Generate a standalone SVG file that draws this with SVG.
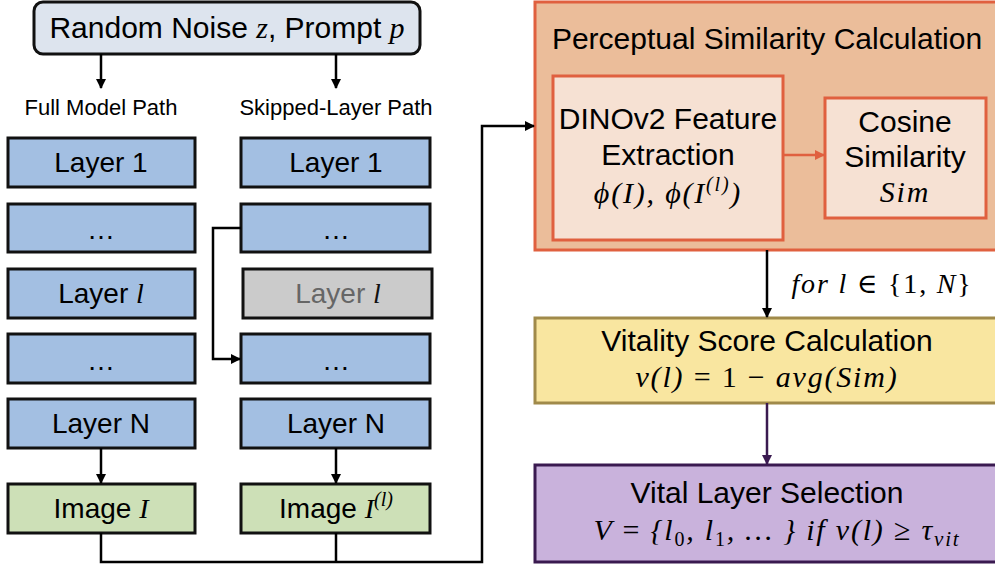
<svg xmlns="http://www.w3.org/2000/svg" width="995" height="570" viewBox="0 0 995 570">
<style>
text{font-family:"Liberation Sans",Arial,sans-serif;fill:#000;text-anchor:middle}
.m{font-family:"Liberation Serif","DejaVu Serif",serif;font-style:italic}
.f{font-family:"Liberation Serif","DejaVu Serif",serif;font-style:italic;letter-spacing:1.8px}
.lay{fill:#a3bfe2;stroke:#111;stroke-width:3}
.img{fill:#cde0b7;stroke:#111;stroke-width:3}
.t{font-size:28px}
.c{fill:none;stroke:#000;stroke-width:2.5}
</style>
<defs>
<marker id="ab" viewBox="0 0 10 10" refX="9" refY="5" markerWidth="4" markerHeight="4" orient="auto"><path d="M0,0L10,5L0,10z" fill="#000"/></marker>
<marker id="ar" viewBox="0 0 10 10" refX="9" refY="5" markerWidth="4" markerHeight="4" orient="auto"><path d="M0,0L10,5L0,10z" fill="#e0603f"/></marker>
<marker id="ap" viewBox="0 0 10 10" refX="9" refY="5" markerWidth="4" markerHeight="4" orient="auto"><path d="M0,0L10,5L0,10z" fill="#3a1a50"/></marker>
</defs>

<g id="input">
<rect x="34" y="2" width="386" height="52" rx="9" fill="#dde4ee" stroke="#111" stroke-width="3"/>
<text x="227" y="38" font-size="30">Random Noise <tspan class="m">z</tspan>, Prompt <tspan class="m">p</tspan></text>
</g>
<text x="101" y="115" font-size="22">Full Model Path</text>
<text x="336" y="115" font-size="22">Skipped-Layer Path</text>

<g id="full-layer1"><rect class="lay" x="8" y="138" width="187" height="49"/><text class="t" x="101" y="172">Layer 1</text></g>
<g id="full-dots1"><rect class="lay" x="8" y="204" width="187" height="48"/><text class="t" x="101" y="239">…</text></g>
<g id="full-layerl"><rect class="lay" x="8" y="269" width="187" height="49"/><text class="t" x="101" y="303">Layer <tspan class="m">l</tspan></text></g>
<g id="full-dots2"><rect class="lay" x="8" y="334" width="187" height="49"/><text class="t" x="101" y="370">…</text></g>
<g id="full-layerN"><rect class="lay" x="8" y="399" width="187" height="49"/><text class="t" x="101" y="433">Layer N</text></g>
<g id="full-image"><rect class="img" x="8" y="484" width="187" height="49"/><text class="t" x="101" y="518">Image <tspan class="m">I</tspan></text></g>

<g id="skip-layer1"><rect class="lay" x="241" y="138" width="189" height="49"/><text class="t" x="336" y="172">Layer 1</text></g>
<g id="skip-dots1"><rect class="lay" x="241" y="204" width="189" height="48"/><text class="t" x="336" y="239">…</text></g>
<g id="skip-layerl"><rect x="243" y="269" width="189" height="49" fill="#cbcbcb" stroke="#111" stroke-width="3"/><text class="t" x="338" y="303" style="fill:#666">Layer <tspan class="m" style="fill:#111">l</tspan></text></g>
<g id="skip-dots2"><rect class="lay" x="241" y="334" width="189" height="49"/><text class="t" x="336" y="370">…</text></g>
<g id="skip-layerN"><rect class="lay" x="241" y="399" width="189" height="49"/><text class="t" x="336" y="433">Layer N</text></g>
<g id="skip-image"><rect class="img" x="241" y="484" width="189" height="49"/><text class="t" x="336" y="518">Image <tspan class="m">I</tspan><tspan class="m" font-size="20" dy="-12">(l)</tspan></text></g>

<g id="perceptual">
<rect x="535" y="2" width="470" height="248" fill="#ebbd9a" stroke="#e0603f" stroke-width="3"/>
<text x="767" y="49" font-size="30">Perceptual Similarity Calculation</text>
</g>
<g id="dinov2">
<rect x="553" y="76" width="230" height="164" fill="#f6e1d3" stroke="#e0603f" stroke-width="3"/>
<text x="668" y="129" font-size="30">DINOv2 Feature</text>
<text x="668" y="165" font-size="30">Extraction</text>
<text class="f" x="668" y="203" font-size="30">ϕ(I), ϕ(I<tspan font-size="20" dy="-12">(l)</tspan><tspan dy="12">)</tspan></text>
</g>
<g id="cosine">
<rect x="825" y="98" width="161" height="120" fill="#f6e1d3" stroke="#e0603f" stroke-width="3"/>
<text x="905" y="132" font-size="30">Cosine</text>
<text x="905" y="167" font-size="30">Similarity</text>
<text class="f" x="905" y="202" font-size="30">Sim</text>
</g>
<g id="vitality">
<rect x="535" y="318" width="470" height="85" fill="#f9e6a0" stroke="#a08a4a" stroke-width="3"/>
<text x="767" y="351" font-size="30">Vitality Score Calculation</text>
<text class="f" x="767" y="387" font-size="30">v(l) <tspan font-style="normal">= 1 −</tspan> avg(Sim)</text>
</g>
<g id="selection">
<rect x="535" y="465" width="470" height="97" fill="#c9b2dc" stroke="#3a1a50" stroke-width="3"/>
<text x="767" y="503" font-size="30">Vital Layer Selection</text>
<text class="f" x="777" y="540" font-size="30">V <tspan font-style="normal">=</tspan> {l<tspan font-size="20" dy="6" font-style="normal">0</tspan><tspan dy="-6">, l</tspan><tspan font-size="20" dy="6" font-style="normal">1</tspan><tspan dy="-6">, … } if v(l) </tspan><tspan font-style="normal">≥</tspan> τ<tspan font-size="21" dy="6">vit</tspan></text>
</g>

<g id="connectors">
<line class="c" x1="101" y1="54" x2="101" y2="88" marker-end="url(#ab)"/>
<line class="c" x1="336" y1="54" x2="336" y2="88" marker-end="url(#ab)"/>
<path class="c" d="M241,228H213V359H240" marker-end="url(#ab)"/>
<line class="c" x1="101" y1="448" x2="101" y2="483" marker-end="url(#ab)"/>
<line class="c" x1="336" y1="448" x2="336" y2="483" marker-end="url(#ab)"/>
<path class="c" d="M101,533V562H482V126H534" marker-end="url(#ab)"/>
<path class="c" d="M336,533V562"/>
<line x1="783" y1="155" x2="824" y2="155" stroke="#e0603f" stroke-width="2.5" marker-end="url(#ar)"/>
<line class="c" x1="767" y1="250" x2="767" y2="317" marker-end="url(#ab)"/>
<line x1="767" y1="403" x2="767" y2="464" stroke="#3a1a50" stroke-width="2.5" marker-end="url(#ap)"/>
<text class="f" x="882" y="293" font-size="28">for l <tspan font-style="normal">∈ {1,</tspan> N<tspan font-style="normal">}</tspan></text>
</g>
</svg>
